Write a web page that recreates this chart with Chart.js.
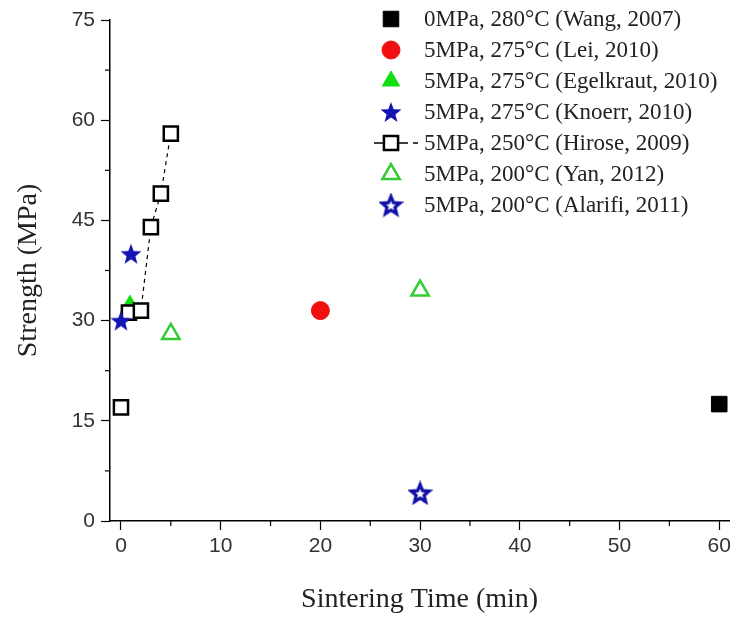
<!DOCTYPE html>
<html><head><meta charset="utf-8">
<script src="https://cdn.jsdelivr.net/npm/chart.js@4"></script>
<style>html,body{margin:0;padding:0;background:#fff}#wrap{width:735px;height:620px}</style>
</head><body><div id="wrap"><canvas id="c" width="735" height="620"></canvas></div>
<script>
// ---- data ----
const seriesNames = [
  "0MPa, 280°C (Wang, 2007)",
  "5MPa, 275°C (Lei, 2010)",
  "5MPa, 275°C (Egelkraut, 2010)",
  "5MPa, 275°C (Knoerr, 2010)",
  "5MPa, 250°C (Hirose, 2009)",
  "5MPa, 200°C (Yan, 2012)",
  "5MPa, 200°C (Alarifi, 2011)"
];
const wangX = [60],            wangY = [17.5];
const leiX = [20],             leiY = [31.5];
const egelX = [0.9],           egelY = [32.3];
const knoerrX = [0, 1],        knoerrY = [30, 40];
const hiroseX = [0, 0.8, 2, 3, 4, 5], hiroseY = [17, 31.2, 31.5, 44, 49, 58];
const yanX = [5, 30],          yanY = [28, 34.5];
const alarifiX = [30],         alarifiY = [4.2];
const xTicks = [0, 10, 20, 30, 40, 50, 60];
const yTicks = [0, 15, 30, 45, 60, 75];

const pts = (xs, ys) => xs.map((x, i) => ({x, y: ys[i]}));

function makeStar(R, r, fill, stroke, lw) {
  const s = Math.ceil(2 * R + lw + 2);
  const c = document.createElement('canvas');
  c.width = s; c.height = s;
  const g = c.getContext('2d');
  g.beginPath();
  for (let i = 0; i < 10; i++) {
    const rad = i % 2 === 0 ? R : r;
    const a = -Math.PI / 2 + i * Math.PI / 5;
    const px = s / 2 + rad * Math.cos(a), py = s / 2 + rad * Math.sin(a) + 1;
    if (i === 0) g.moveTo(px, py); else g.lineTo(px, py);
  }
  g.closePath();
  g.fillStyle = fill; g.fill();
  if (lw > 0) { g.lineWidth = lw; g.lineJoin = 'miter'; g.strokeStyle = stroke; g.stroke(); }
  return c;
}
const BLUE = '#1414b4';
const starFilled = makeStar(11, 4.6, BLUE, BLUE, 0);
const starHollow = makeStar(9.5, 4.2, '#ffffff', '#1010a8', 3.2);

const datasets = [
  {label: seriesNames[0], data: pts(wangX, wangY), pointStyle: 'rect', pointRadius: 11,
   backgroundColor: '#000', borderColor: '#000', pointBorderWidth: 1, order: 5},
  {label: seriesNames[1], data: pts(leiX, leiY), pointStyle: 'circle', pointRadius: 9,
   backgroundColor: '#f01010', borderColor: '#f01010', pointBorderWidth: 1, order: 4},
  {label: seriesNames[2], data: pts(egelX, egelY), pointStyle: 'triangle', pointRadius: 10,
   backgroundColor: '#10e010', borderColor: '#10e010', pointBorderWidth: 1, order: 6},
  {label: seriesNames[3], data: pts(knoerrX, knoerrY), pointStyle: starFilled, pointRadius: 11,
   backgroundColor: BLUE, borderColor: BLUE, order: 0},
  {label: seriesNames[4], data: pts(hiroseX, hiroseY), pointStyle: 'rect', pointRadius: 10,
   backgroundColor: '#fff', borderColor: '#000', pointBorderWidth: 2.5, showLine: true,
   borderWidth: 1.2, borderDash: [4, 4], order: 1,
   segment: {borderColor: ctx => ctx.p0DataIndex === 0 ? 'rgba(0,0,0,0)' : undefined}},
  {label: seriesNames[5], data: pts(yanX, yanY), pointStyle: 'triangle', pointRadius: 10,
   backgroundColor: 'rgba(255,255,255,0)', borderColor: '#33cc33', pointBorderWidth: 2.5, order: 3},
  {label: seriesNames[6], data: pts(alarifiX, alarifiY), pointStyle: starHollow, pointRadius: 11,
   backgroundColor: '#fff', borderColor: '#1010a8', order: 2}
];

function drawMarker(ctx, ds, x, y) {
  const st = ds.pointStyle, r = ds.pointRadius;
  ctx.save();
  ctx.fillStyle = ds.backgroundColor; ctx.strokeStyle = ds.borderColor;
  ctx.lineWidth = ds.pointBorderWidth || 1;
  if (st instanceof HTMLCanvasElement) {
    ctx.drawImage(st, x - st.width / 2, y - st.height / 2);
  } else if (st === 'rect') {
    const h = Math.SQRT1_2 * r;
    ctx.beginPath(); ctx.rect(x - h, y - h, 2 * h, 2 * h); ctx.fill(); ctx.stroke();
  } else if (st === 'circle') {
    ctx.beginPath(); ctx.arc(x, y, r, 0, Math.PI * 2); ctx.fill(); ctx.stroke();
  } else if (st === 'triangle') {
    const a = -Math.PI / 2;
    ctx.beginPath();
    for (let i = 0; i < 3; i++) {
      const an = a + i * 2 * Math.PI / 3;
      const px = x + Math.cos(an) * r, py = y + Math.sin(an) * r;
      if (i === 0) ctx.moveTo(px, py); else ctx.lineTo(px, py);
    }
    ctx.closePath(); ctx.fill(); ctx.stroke();
  }
  ctx.restore();
}

const extras = {
  id: 'extras',
  afterDraw(chart) {
    const ctx = chart.ctx;
    const xs = chart.scales.x, ys = chart.scales.y;
    // minor ticks
    ctx.save();
    ctx.strokeStyle = '#000'; ctx.lineWidth = 1.2;
    for (let v = 5; v < 60; v += 10) {
      const px = xs.getPixelForValue(v);
      ctx.beginPath(); ctx.moveTo(px, xs.top); ctx.lineTo(px, xs.top + 5); ctx.stroke();
    }
    for (let v = 7.5; v < 75; v += 15) {
      const py = ys.getPixelForValue(v);
      ctx.beginPath(); ctx.moveTo(ys.right, py); ctx.lineTo(ys.right - 5, py); ctx.stroke();
    }
    ctx.restore();
    // legend
    const mx = 391, tx = 424, y0 = 19, dy = 31;
    ctx.save();
    ctx.font = '23px "Liberation Serif", "Times New Roman", serif';
    ctx.fillStyle = '#222'; ctx.textBaseline = 'middle'; ctx.textAlign = 'left';
    chart.data.datasets.forEach((ds, i) => {
      const y = y0 + i * dy;
      if (ds.showLine) {
        ctx.save(); ctx.strokeStyle = '#000'; ctx.lineWidth = 1.5;
        ctx.beginPath(); ctx.moveTo(374, y); ctx.lineTo(408, y); ctx.stroke();
        ctx.beginPath(); ctx.moveTo(413, y); ctx.lineTo(418, y); ctx.stroke();
        ctx.restore();
      }
      drawMarker(ctx, ds, mx, y);
      ctx.fillText(ds.label, tx, y + 1);
    });
    ctx.restore();
  }
};

const tickFont = {family: '"Liberation Sans", Arial, sans-serif', size: 21};
const titleFont = {family: '"Liberation Serif", "Times New Roman", serif', size: 28};

new Chart(document.getElementById('c'), {
  type: 'scatter',
  data: {datasets},
  options: {
    responsive: false, animation: false,
    layout: {autoPadding: false, padding: {top: 20, right: 5, left: 0, bottom: 0}},
    plugins: {legend: {display: false}, tooltip: {enabled: false}},
    scales: {
      x: {
        type: 'linear', min: -1.1, max: 61,
        afterFit: s => { s.height = 99; },
        afterBuildTicks: s => { s.ticks = xTicks.map(v => ({value: v})); },
        ticks: {color: '#333', font: tickFont, padding: 4, includeBounds: false},
        grid: {drawOnChartArea: false, tickLength: 9, color: '#000', tickColor: '#000', tickWidth: 1.2},
        border: {display: true, color: '#000', width: 1.5},
        title: {display: true, text: 'Sintering Time (min)', color: '#222', font: titleFont, padding: {top: 6}}
      },
      y: {
        type: 'linear', min: 0, max: 75,
        afterFit: s => { s.width = 110; },
        afterBuildTicks: s => { s.ticks = yTicks.map(v => ({value: v})); },
        ticks: {color: '#333', font: tickFont, padding: 6},
        grid: {drawOnChartArea: false, tickLength: 9, color: '#000', tickColor: '#000', tickWidth: 1.2},
        border: {display: true, color: '#000', width: 1.5},
        title: {display: true, text: 'Strength (MPa)', color: '#222', font: titleFont, padding: {top: 12, bottom: 4}}
      }
    }
  },
  plugins: [extras]
});
</script></body></html>
